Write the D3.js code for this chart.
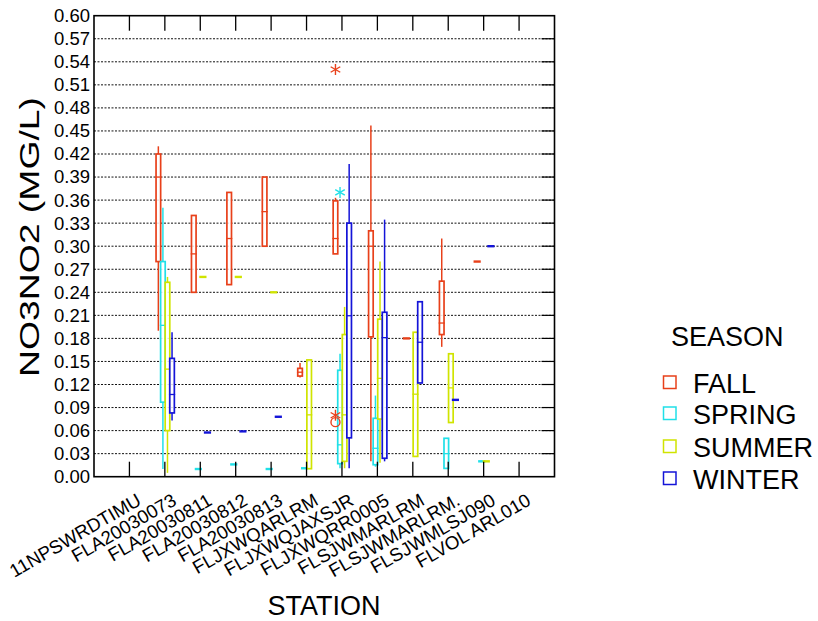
<!DOCTYPE html>
<html><head><meta charset="utf-8">
<script src="https://cdn.jsdelivr.net/npm/d3@7"></script>
<style>
html,body{margin:0;padding:0;background:#fff;}
svg{display:block;font-family:"Liberation Sans",Arial,sans-serif;}
</style></head>
<body><svg id="chart" width="818" height="621"></svg>
<script>
const stations = ["11NPSWRDTIMU","FLA20030073","FLA20030811","FLA20030812","FLA20030813","FLJXWQARLRM","FLJXWQJAXSJR","FLJXWQRR0005","FLSJWMARLRM","FLSJWMARLRM.","FLSJWMLSJ090","FLVOL ARL010"];
const seasons = ["FALL","SPRING","SUMMER","WINTER"];
const seasonColors = ["#e8401a","#20e0e8","#d0e400","#1414d8"];
const yTicks = [0,0.03,0.06,0.09,0.12,0.15,0.18,0.21,0.24,0.27,0.30,0.33,0.36,0.39,0.42,0.45,0.48,0.51,0.54,0.57,0.60];
// [min, q1, median, q3, max] per station
const fall = [null,[0.19,0.28,0.39,0.42,0.43],[0.24,0.24,0.29,0.34,0.34],[0.25,0.25,0.31,0.37,0.37],[0.30,0.30,0.345,0.39,0.39],[0.129,0.131,0.136,0.141,0.148],[0.29,0.29,0.31,0.359,0.363],[0.02,0.182,0.30,0.32,0.457],[0.18,0.18,0.18,0.18,0.18],[0.169,0.185,0.20,0.2545,0.31],[0.28,0.28,0.28,0.28,0.28],null];
const spring = [null,[0.01,0.097,0.197,0.28,0.35],[0.01,0.01,0.01,0.01,0.01],[0.016,0.016,0.016,0.016,0.016],[0.01,0.01,0.01,0.01,0.01],[0.011,0.011,0.011,0.011,0.011],[0.011,0.017,0.0415,0.1385,0.16],[0.013,0.0156,0.037,0.076,0.1056],null,[0.0108,0.0108,0.03,0.05,0.05],[0.02,0.02,0.02,0.02,0.02],null];
const summer = [null,[0.005,0.06,0.14,0.253,0.26],[0.26,0.26,0.26,0.26,0.26],[0.26,0.26,0.26,0.26,0.26],[0.24,0.24,0.24,0.24,0.24],[0.0104,0.0104,0.0805,0.152,0.152],[0.011,0.02,0.0805,0.185,0.221],[0.018,0.075,0.128,0.205,0.28],[0.0264,0.0264,0.1074,0.188,0.188],[0.0705,0.0705,0.1156,0.16,0.16],[0.02,0.02,0.02,0.02,0.02],null];
const winter = [null,[0.073,0.083,0.107,0.154,0.188],[0.0575,0.0575,0.0575,0.0575,0.0575],[0.059,0.059,0.059,0.059,0.059],[0.078,0.078,0.078,0.078,0.078],null,[0.011,0.0506,0.2095,0.33,0.407],[0.02,0.024,0.181,0.214,0.3346],[0.122,0.122,0.175,0.2277,0.2277],[0.10,0.10,0.10,0.10,0.10],[0.30,0.30,0.30,0.30,0.30],null];
const outlierStation = ["FLJXWQJAXSJR","FLJXWQJAXSJR","FLJXWQJAXSJR","FLJXWQJAXSJR"];
const outlierSeason = ["FALL","FALL","FALL","SPRING"];
const outlierValue = [0.53,0.08,0.071,0.37];
const outlierSymbol = ["star","star","circle","star"];

const seriesData = [fall,spring,summer,winter];
const svg = d3.select("#chart");
const L=94, R=554.5, T=15.7, B=476.7;
const x = d3.scaleLinear().domain([0,13]).range([L,R]);
const y = d3.scaleLinear().domain([0,0.6]).range([B,T]);
const off = d3.scalePoint().domain(seasons).range([-6.5,7.2]);
const color = d3.scaleOrdinal().domain(seasons).range(seasonColors);

// grid
svg.append("g").selectAll("line").data(yTicks.filter(v=>v>0 && v<0.6)).join("line")
  .attr("x1",L).attr("x2",R).attr("y1",d=>y(d)).attr("y2",d=>y(d))
  .attr("stroke","#111").attr("stroke-width",1).attr("stroke-dasharray","2,1.5");

// y axis labels
const yAxis = d3.axisLeft(y).tickValues(yTicks).tickFormat(d3.format(".2f")).tickSize(0).tickPadding(4);
const yg = svg.append("g").attr("transform",`translate(${L},0)`).call(yAxis);
yg.select(".domain").remove();
yg.selectAll("text").attr("font-size","18.5px").attr("fill","#000").attr("font-family","Liberation Sans, Arial, sans-serif");

// boxes
const boxW = 4.6;
seasons.forEach((s,si)=>{
  const g = svg.append("g");
  const col = color(s);
  seriesData[si].forEach((d,i)=>{
    if(!d) return;
    const cx = x(i+1)+off(s);
    const [mn,q1,md,q3,mx] = d;
    if (q1===q3 && mn===mx) {
      g.append("line").attr("x1",cx-3.6).attr("x2",cx+3.6).attr("y1",y(md)).attr("y2",y(md))
        .attr("stroke",col).attr("stroke-width",2.4);
      return;
    }
    g.append("line").attr("x1",cx).attr("x2",cx).attr("y1",y(mx)).attr("y2",y(q3)).attr("stroke",col).attr("stroke-width",1.5);
    g.append("line").attr("x1",cx).attr("x2",cx).attr("y1",y(q1)).attr("y2",y(mn)).attr("stroke",col).attr("stroke-width",1.5);
    g.append("rect").attr("x",cx-boxW/2).attr("width",boxW).attr("y",y(q3)).attr("height",Math.max(0,y(q1)-y(q3)))
      .attr("fill","#fff").attr("fill-opacity",0.85).attr("stroke",col).attr("stroke-width",1.7);
    g.append("line").attr("x1",cx-boxW/2-0.8).attr("x2",cx+boxW/2+0.8).attr("y1",y(md)).attr("y2",y(md)).attr("stroke",col).attr("stroke-width",1.3);
  });
});

// outliers
outlierValue.forEach((v,k)=>{
  const i = stations.indexOf(outlierStation[k]);
  const cx = x(i+1)+off(outlierSeason[k]);
  const cy = y(v);
  const col = color(outlierSeason[k]);
  if (outlierSymbol[k]==="circle") {
    svg.append("circle").attr("cx",cx).attr("cy",cy).attr("r",4.5).attr("fill","none").attr("stroke",col).attr("stroke-width",1.4);
  } else {
    const r=5.5;
    [[0,-r,0,r],[-r*0.87,-r*0.5,r*0.87,r*0.5],[-r*0.87,r*0.5,r*0.87,-r*0.5]].forEach(p=>{
      svg.append("line").attr("x1",cx+p[0]).attr("y1",cy+p[1]).attr("x2",cx+p[2]).attr("y2",cy+p[3]).attr("stroke",col).attr("stroke-width",1.4);
    });
  }
});

// category ticks (inside, bottom and top)
const cats = d3.range(1,stations.length+1);
svg.append("g").selectAll("line").data(cats).join("line")
  .attr("x1",d=>x(d)).attr("x2",d=>x(d)).attr("y1",B).attr("y2",B-15).attr("stroke","#000").attr("stroke-width",1.3);
svg.append("g").selectAll("line").data(cats).join("line")
  .attr("x1",d=>x(d)).attr("x2",d=>x(d)).attr("y1",T).attr("y2",T+15).attr("stroke","#000").attr("stroke-width",1.3);
// right inner ticks
svg.append("g").selectAll("line").data(yTicks.filter(v=>v>0 && v<0.6)).join("line")
  .attr("x1",R-13).attr("x2",R).attr("y1",d=>y(d)).attr("y2",d=>y(d)).attr("stroke","#000").attr("stroke-width",1.2);

// frame
svg.append("rect").attr("x",L).attr("y",T).attr("width",R-L).attr("height",B-T)
  .attr("fill","none").attr("stroke","#000").attr("stroke-width",1.6);

// x labels
svg.append("g").selectAll("text").data(stations).join("text")
  .attr("transform",(d,i)=>`translate(${x(i+1)+13},504) rotate(-30)`)
  .attr("text-anchor","end").attr("font-size","18.7px").attr("fill","#000").text(d=>d);

// axis titles
svg.append("text").attr("transform","translate(39,237) rotate(-90)").attr("text-anchor","middle")
  .attr("font-size","27px").attr("textLength",280).attr("lengthAdjust","spacingAndGlyphs").text("NO3NO2 (MG/L)");
svg.append("text").attr("x",324).attr("y",615).attr("text-anchor","middle").attr("font-size","27px").text("STATION");

// legend
const lg = svg.append("g");
lg.append("text").attr("x",671).attr("y",346).attr("font-size","27px").text("SEASON");
const legendY = [393,424,457,489];
seasons.forEach((s,i)=>{
  lg.append("rect").attr("x",663.5).attr("y",legendY[i]-17).attr("width",12.5).attr("height",12.5)
    .attr("fill","#fff").attr("stroke",color(s)).attr("stroke-width",1.5);
  lg.append("text").attr("x",693).attr("y",legendY[i]).attr("font-size","27px").text(s);
});
</script></body></html>
